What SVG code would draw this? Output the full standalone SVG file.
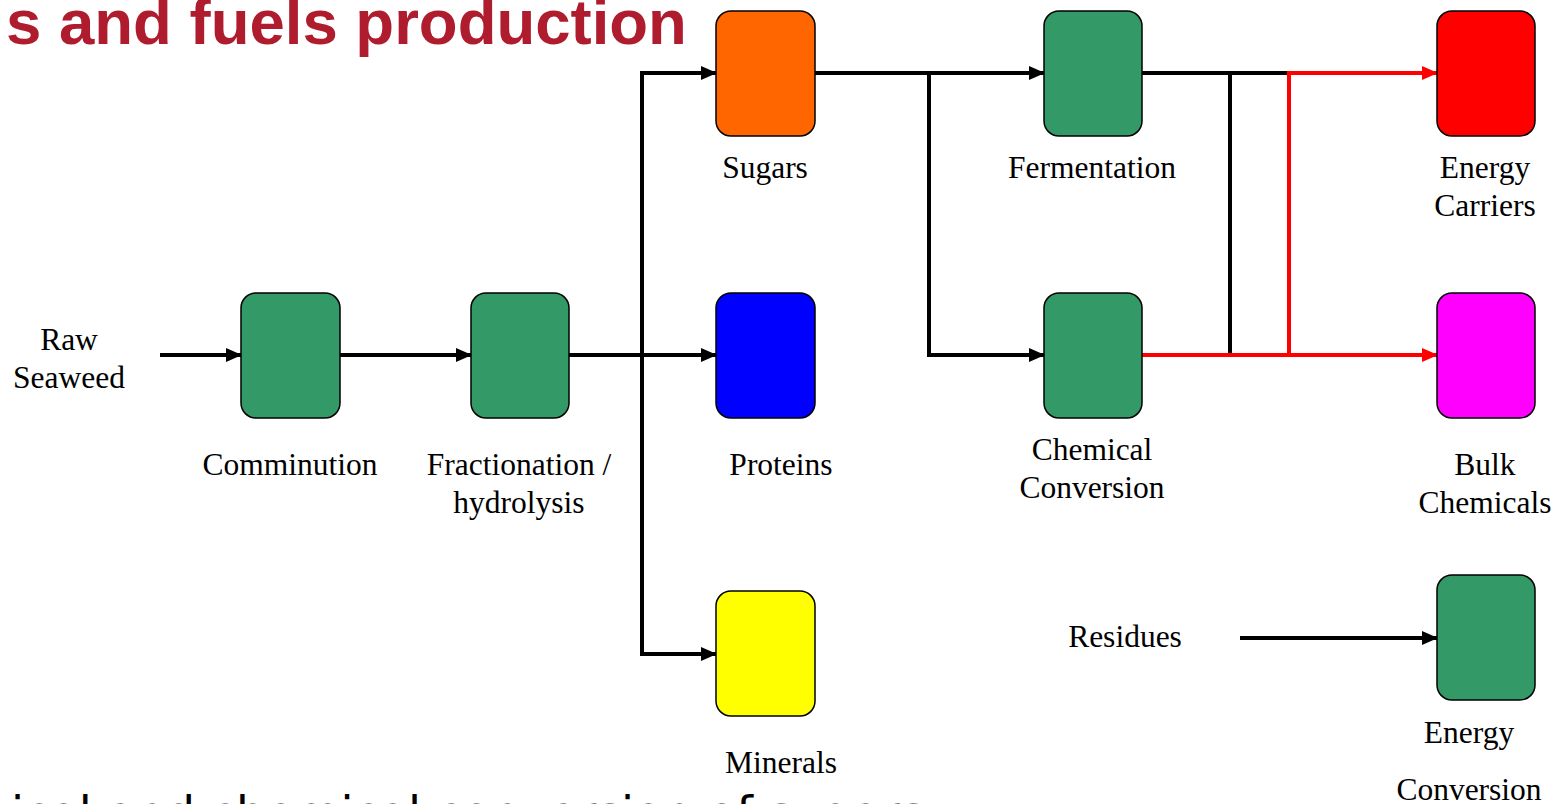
<svg xmlns="http://www.w3.org/2000/svg" width="1555" height="804" viewBox="0 0 1555 804">
<style>
.box{stroke:#000;stroke-width:1.5}
.g{fill:#339966}
.lbl{font-family:"Liberation Serif","Times New Roman",serif;font-size:31.5px;fill:#000;text-anchor:middle}
.c{fill:none;stroke:#000;stroke-width:4}
.r{fill:none;stroke:#FF0000;stroke-width:4}
.title{font-family:"Liberation Sans",Arial,sans-serif;font-weight:bold;font-size:63.5px;fill:#AF1C2E}
.sub{font-family:"DejaVu Sans",sans-serif;font-size:47px;fill:#000}
</style>
<defs>
<marker id="ab" viewBox="0 0 16 14" refX="15" refY="7" markerWidth="16" markerHeight="14" markerUnits="userSpaceOnUse" orient="auto"><path d="M0,0 L16,7 L0,14 Z" fill="#000"/></marker>
<marker id="ar" viewBox="0 0 16 14" refX="15" refY="7" markerWidth="16" markerHeight="14" markerUnits="userSpaceOnUse" orient="auto"><path d="M0,0 L16,7 L0,14 Z" fill="#FF0000"/></marker>
</defs>
<rect width="1555" height="804" fill="#fff"/>
<text class="title" x="6" y="44">s and fuels production</text>
<text class="sub" x="11" y="829">ical and chemical conversion of sugars</text>
<g id="connectors">
<path class="c" d="M160,355 H241" marker-end="url(#ab)"/>
<path class="c" d="M340,355 H471" marker-end="url(#ab)"/>
<path class="c" d="M569,355 H716" marker-end="url(#ab)"/>
<path class="c" d="M642,355 V73 H716" marker-end="url(#ab)"/>
<path class="c" d="M642,355 V654 H716" marker-end="url(#ab)"/>
<path class="c" d="M815,73 H1044" marker-end="url(#ab)"/>
<path class="c" d="M929,73 V355 H1044" marker-end="url(#ab)"/>
<path class="c" d="M1142,73 H1289"/>
<path class="c" d="M1230,73 V355"/>
<path class="r" d="M1142,355 H1437" marker-end="url(#ar)"/>
<path class="r" d="M1289,355 V73 H1437" marker-end="url(#ar)"/>
<path class="c" d="M1240,638 H1437" marker-end="url(#ab)"/>
</g>
<g id="raw-seaweed"><text class="lbl" x="69" y="350">Raw</text><text class="lbl" x="69" y="388">Seaweed</text></g>
<g id="comminution"><rect class="box g" x="241" y="293" width="99" height="125" rx="15"/><text class="lbl" x="290" y="475">Comminution</text></g>
<g id="fractionation"><rect class="box g" x="471" y="293" width="98" height="125" rx="15"/><text class="lbl" x="519" y="475">Fractionation /</text><text class="lbl" x="519" y="513">hydrolysis</text></g>
<g id="sugars"><rect class="box" fill="#FF6600" x="716" y="11" width="99" height="125" rx="15"/><text class="lbl" x="765" y="178">Sugars</text></g>
<g id="proteins"><rect class="box" fill="#0000FF" x="716" y="293" width="99" height="125" rx="15"/><text class="lbl" x="781" y="475">Proteins</text></g>
<g id="minerals"><rect class="box" fill="#FFFF00" x="716" y="591" width="99" height="125" rx="15"/><text class="lbl" x="781" y="773">Minerals</text></g>
<g id="fermentation"><rect class="box g" x="1044" y="11" width="98" height="125" rx="15"/><text class="lbl" x="1092" y="178">Fermentation</text></g>
<g id="chemical-conversion"><rect class="box g" x="1044" y="293" width="98" height="125" rx="15"/><text class="lbl" x="1092" y="460">Chemical</text><text class="lbl" x="1092" y="498">Conversion</text></g>
<g id="energy-carriers"><rect class="box" fill="#FF0000" x="1437" y="11" width="98" height="125" rx="15"/><text class="lbl" x="1485" y="178">Energy</text><text class="lbl" x="1485" y="216">Carriers</text></g>
<g id="bulk-chemicals"><rect class="box" fill="#FF00FF" x="1437" y="293" width="98" height="125" rx="15"/><text class="lbl" x="1485" y="475">Bulk</text><text class="lbl" x="1485" y="513">Chemicals</text></g>
<g id="residues"><text class="lbl" x="1125" y="647">Residues</text></g>
<g id="energy-conversion"><rect class="box g" x="1437" y="575" width="98" height="125" rx="15"/><text class="lbl" x="1469" y="743">Energy</text><text class="lbl" x="1469" y="800">Conversion</text></g>
</svg>
